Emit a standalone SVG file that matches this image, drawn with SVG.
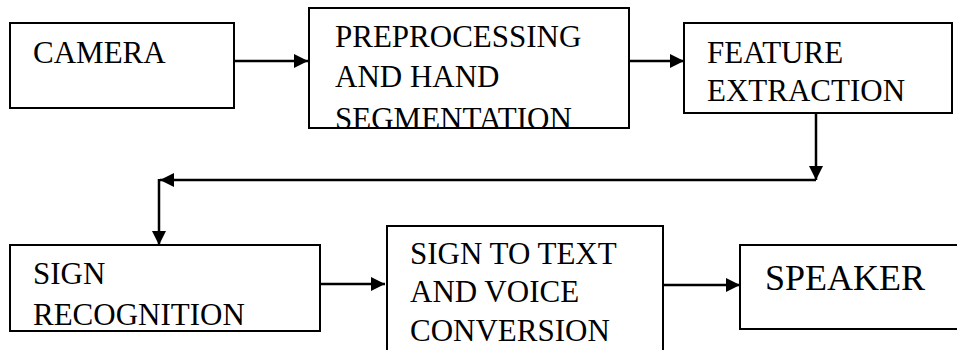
<svg xmlns="http://www.w3.org/2000/svg" width="957" height="350" viewBox="0 0 957 350">
  <style>
    .box { fill: #ffffff; stroke: #000000; stroke-width: 2; }
    .conn { fill: none; stroke: #000000; stroke-width: 2.5; }
  </style>
  <defs>
    <marker id="arrow" markerUnits="userSpaceOnUse" markerWidth="14" markerHeight="14" refX="14" refY="7" orient="auto">
      <path d="M0,0 L14,7 L0,14 z" fill="#000000"/>
    </marker>
  </defs>
  <rect width="957" height="350" fill="#ffffff"/>

  <g font-family="Liberation Serif, DejaVu Serif, serif" font-size="31" fill="#000000">
  <g id="camera">
    <rect class="box" x="10" y="23" width="224" height="85"/>
    <text x="33" y="63">CAMERA</text>
  </g>

  <g id="preprocessing">
    <rect class="box" x="309" y="8" width="320" height="120"/>
    <text x="335" y="47">PREPROCESSING</text>
    <text x="335" y="87">AND HAND</text>
    <text x="335" y="129">SEGMENTATION</text>
    <line x1="309" y1="128" x2="629" y2="128" stroke="#000" stroke-width="2"/>
  </g>

  <g id="feature">
    <rect class="box" x="684" y="23" width="268" height="90"/>
    <text x="707" y="63">FEATURE</text>
    <text x="707" y="101">EXTRACTION</text>
  </g>

  <g id="recognition">
    <rect class="box" x="10" y="245" width="310" height="86"/>
    <text x="33" y="284">SIGN</text>
    <text x="33" y="325">RECOGNITION</text>
  </g>

  <g id="conversion">
    <rect class="box" x="387" y="226" width="276" height="140"/>
    <text x="410" y="264">SIGN TO TEXT</text>
    <text x="410" y="302">AND VOICE</text>
    <text x="410" y="341">CONVERSION</text>
  </g>

  <g id="speaker">
    <rect class="box" x="740" y="245" width="240" height="84"/>
    <text x="765" y="290" font-size="36">SPEAKER</text>
  </g>
  </g>

  <g id="connectors">
    <line class="conn" x1="234" y1="61" x2="308" y2="61" marker-end="url(#arrow)"/>
    <line class="conn" x1="629" y1="61" x2="684" y2="61" marker-end="url(#arrow)"/>
    <line class="conn" x1="816" y1="113" x2="816" y2="180" marker-end="url(#arrow)"/>
    <line class="conn" x1="816" y1="180" x2="160" y2="180" marker-end="url(#arrow)"/>
    <line class="conn" x1="159" y1="179" x2="159" y2="245" marker-end="url(#arrow)"/>
    <line class="conn" x1="320" y1="284" x2="385" y2="284" marker-end="url(#arrow)"/>
    <line class="conn" x1="663" y1="285" x2="740" y2="285" marker-end="url(#arrow)"/>
  </g>
</svg>
